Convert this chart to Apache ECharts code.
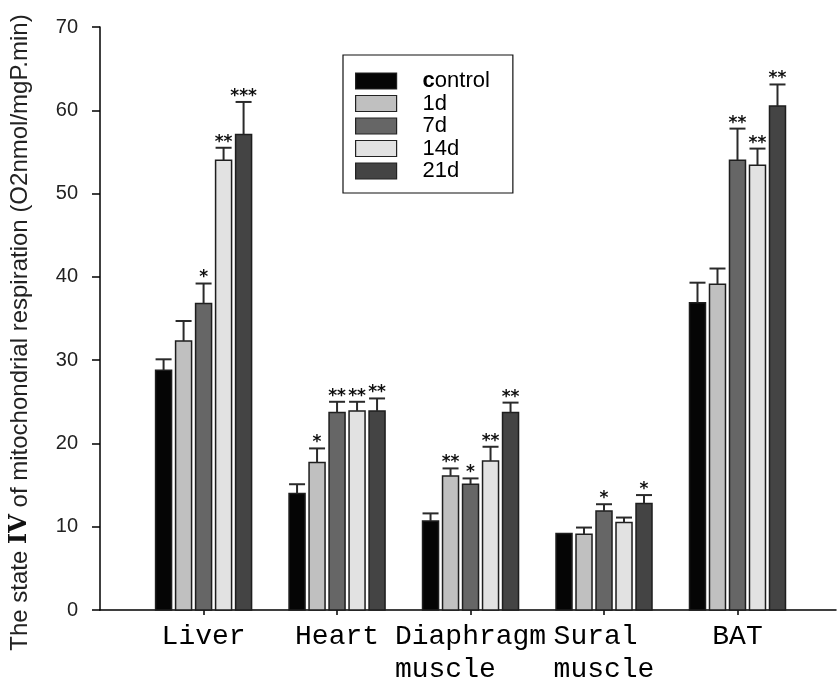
<!DOCTYPE html>
<html>
<head>
<meta charset="utf-8">
<script src="https://cdn.jsdelivr.net/npm/echarts@6/dist/echarts.min.js"></script>
<style>
  html, body { margin: 0; padding: 0; background: #fff; }
  #chart { width: 837px; height: 686px; }
</style>
</head>
<body>
<div id="chart"></div>
<script>
// tissues on the x axis (padded so the two-line labels line up on the left)
const tissues = ['Liver', 'Heart', 'Diaphragm\nmuscle   ', 'Sural \nmuscle', 'BAT'];
const groups = ['control', '1d', '7d', '14d', '21d'];
const yTicks = [0, 10, 20, 30, 40, 50, 60, 70];

// state IV respiration, mean per group (order = tissues)
const controlMean = [28.8, 14.0, 10.7, 9.2, 36.9];
const d1Mean = [32.3, 17.7, 16.1, 9.1, 39.1];
const d7Mean = [36.8, 23.7, 15.1, 11.9, 54.0];
const d14Mean = [54.0, 23.9, 17.9, 10.5, 53.4];
const d21Mean = [57.1, 23.9, 23.7, 12.8, 60.5];

// upper error bar (SE)
const controlErr = [1.3, 1.1, 0.9, 0, 2.4];
const d1Err = [2.4, 1.7, 0.9, 0.8, 1.9];
const d7Err = [2.4, 1.3, 0.7, 0.8, 3.8];
const d14Err = [1.5, 1.1, 1.7, 0.6, 2.0];
const d21Err = [3.9, 1.5, 1.2, 1.0, 2.6];

// significance marks
const controlSig = ['', '', '', '', ''];
const d1Sig = ['', '*', '**', '', ''];
const d7Sig = ['*', '**', '*', '*', '**'];
const d14Sig = ['**', '**', '**', '', '**'];
const d21Sig = ['***', '**', '**', '*', '**'];

const means = [controlMean, d1Mean, d7Mean, d14Mean, d21Mean];
const errs = [controlErr, d1Err, d7Err, d14Err, d21Err];
const sigs = [controlSig, d1Sig, d7Sig, d14Sig, d21Sig];
const colors = ['#050505', '#c0c0c0', '#666666', '#e2e2e2', '#444444'];

const barW = 16;
const pitch = 20;

var myChart = echarts.init(document.getElementById('chart'));

function makeRender(si) {
  return function (params, api) {
    var idx = api.value(0);
    var val = api.value(1);
    var err = api.value(2);
    var base = api.coord([idx, 0]);
    var top = api.coord([idx, val]);
    var cap = api.coord([idx, val + err]);
    var cx = base[0] + (si - 2) * pitch;
    var children = [{
      type: 'rect',
      shape: { x: cx - barW / 2, y: top[1], width: barW, height: base[1] - top[1] },
      style: { fill: colors[si], stroke: '#1e1e1e', lineWidth: 1.5 }
    }];
    if (err > 0) {
      children.push({
        type: 'line',
        shape: { x1: cx, y1: top[1], x2: cx, y2: cap[1] },
        style: { stroke: '#2a2a2a', lineWidth: 2 }
      });
      children.push({
        type: 'line',
        shape: { x1: cx - barW / 2, y1: cap[1], x2: cx + barW / 2, y2: cap[1] },
        style: { stroke: '#2a2a2a', lineWidth: 2 }
      });
    }
    var s = sigs[si][params.dataIndex];
    if (s) {
      children.push({
        type: 'text',
        style: {
          x: cx, y: cap[1] + 3, text: s,
          align: 'center', verticalAlign: 'bottom',
          font: 'bold 17px "DejaVu Sans"', fill: '#111'
        }
      });
    }
    return { type: 'group', children: children };
  };
}

var series = groups.map(function (g, si) {
  return {
    name: g,
    type: 'custom',
    renderItem: makeRender(si),
    itemStyle: { color: colors[si] },
    encode: { x: 0, y: 1 },
    data: tissues.map(function (t, i) { return [i, means[si][i], errs[si][i]]; })
  };
});

var option = {
  animation: false,
  grid: { left: 96, right: 1, top: 27, bottom: 72 },
  legend: {
    orient: 'vertical',
    left: 343,
    top: 55,
    padding: [15, 23, 11, 12],
    itemWidth: 41,
    itemHeight: 16,
    itemGap: 0.5,
    icon: 'rect',
    borderColor: '#111',
    borderWidth: 1.2,
    data: groups.map(function (g, i) {
      return { name: g, itemStyle: { color: colors[i], borderColor: '#222', borderWidth: 1.2 } };
    }),
    formatter: function (name) {
      if (name === 'control') return '{cb|c}{t|ontrol}';
      return '{tp|' + name + '}';
    },
    textStyle: {
      fontFamily: 'Liberation Sans',
      fontSize: 22,
      color: '#000',
      rich: {
        cb: { fontFamily: 'Liberation Sans', fontSize: 22, fontWeight: 'bold', color: '#000', padding: [0, 0, 0, 21] },
        t: { fontFamily: 'Liberation Sans', fontSize: 22, color: '#000' },
        tp: { fontFamily: 'Liberation Sans', fontSize: 22, color: '#000', padding: [0, 0, 0, 21] }
      }
    }
  },
  xAxis: {
    type: 'value',
    min: -0.776,
    max: 4.738,
    splitLine: { show: false },
    axisLine: { show: true, lineStyle: { color: '#000', width: 1.5 } },
    axisTick: { show: true, customValues: [0, 1, 2, 3, 4], length: 5, lineStyle: { color: '#000', width: 1.5 } },
    axisLabel: {
      customValues: [0, 1, 2, 3, 4],
      formatter: function (v) { return tissues[Math.round(v)]; },
      fontFamily: 'Liberation Mono',
      fontSize: 28,
      lineHeight: 33,
      color: '#000',
      margin: 10
    }
  },
  yAxis: {
    type: 'value',
    min: 0,
    max: 70,
    interval: 10,
    splitLine: { show: false },
    axisLine: { show: true, onZero: false, lineStyle: { color: '#000', width: 1.5 } },
    axisTick: { show: true, length: 8, lineStyle: { color: '#000', width: 1.5 } },
    axisLabel: {
      fontFamily: 'Liberation Sans',
      fontSize: 20,
      color: '#222',
      margin: 22,
      formatter: function (v) { return yTicks.indexOf(v) >= 0 ? String(v) : ''; }
    },
    name: 'The state {b|IV} of mitochondrial respiration (O2nmol/mgP.min)',
    nameLocation: 'middle',
    nameRotate: 90,
    nameGap: 68,
    nameTextStyle: {
      fontFamily: 'Liberation Sans',
      fontSize: 24,
      color: '#222',
      padding: [0, 28, 0, 0],
      rich: {
        b: { fontFamily: 'DejaVu Serif', fontWeight: 'bold', fontSize: 24, color: '#111' }
      }
    }
  },
  series: series
};
myChart.setOption(option);
</script>
</body>
</html>
